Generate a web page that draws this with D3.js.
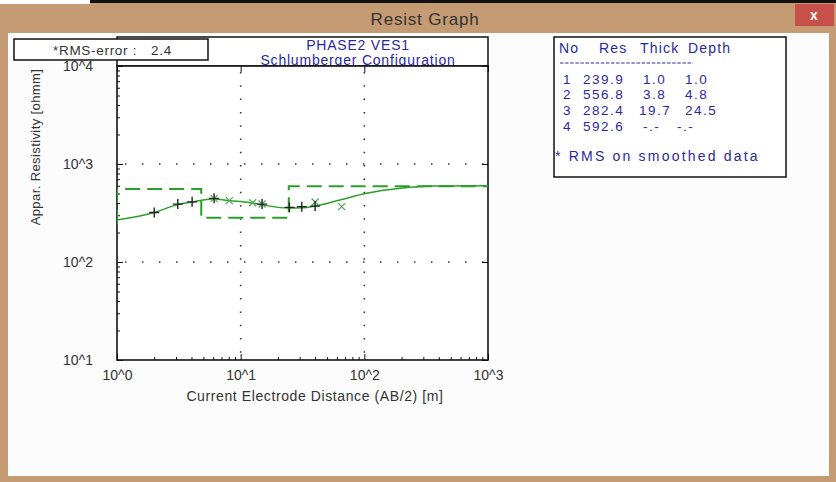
<!DOCTYPE html>
<html>
<head>
<meta charset="utf-8">
<script src="https://cdn.jsdelivr.net/npm/d3@7/dist/d3.min.js"></script>
<style>
  html, body { margin: 0; padding: 0; background: #fff; }
  svg { display: block; font-family: "Liberation Sans", Arial, sans-serif; }
</style>
</head>
<body>
<svg id="win" width="836" height="482"></svg>
<script>
// Layered earth model (inversion result)
const layerNo    = [1, 2, 3, 4];
const layerRes   = [239.9, 556.8, 282.4, 592.6];
const layerThick = ["1.0", "3.8", "19.7", "-.-"];
const layerDepth = ["1.0", "4.8", "24.5", "-.-"];
const depths     = [1.0, 4.8, 24.5];

// Sounding data: AB/2 [m] and apparent resistivity [ohmm]
const measuredAB  = [2.0, 3.1, 4.05, 6.1, 14.9, 24.8, 31.2, 40];
const measuredRho = [320, 390, 411, 446, 390, 361, 367, 372];
const smoothedAB  = [6.1, 8.1, 12.5, 14.9, 40, 65.6];
const smoothedRho = [446, 423, 403, 390, 409, 367];

// Calculated model response curve
const curveAB  = [1.0, 2.0, 3.1, 4.1, 5.9, 8.2, 11.9, 15.2, 24.2, 31.9, 39.9, 63.5, 104, 195, 360, 1000];
const curveRho = [268, 320, 385, 410, 440, 422, 403, 382, 355, 357, 372, 429, 502, 565, 597, 600];

// Axis decades
const xDecades = [1, 10, 100, 1000];
const yDecades = [10, 100, 1000, 10000];
const xDecadeLabels = ["10^0", "10^1", "10^2", "10^3"];
const yDecadeLabels = ["10^1", "10^2", "10^3", "10^4"];

const rmsError = 2.4;

const svg = d3.select("#win");
const W = 836, H = 482;
const tan = "#c49b72";
const blue = "#2a2aa0";
const green = "#2a9f2a";
const ink = "#333";

// ---- window chrome ----
svg.append("rect").attr("x", 0).attr("y", 0).attr("width", W).attr("height", H).attr("fill", tan);
svg.append("rect").attr("x", 0).attr("y", 0).attr("width", 90).attr("height", 4).attr("fill", "#fff");
svg.append("rect").attr("x", 90).attr("y", 0).attr("width", W - 90).attr("height", 3).attr("fill", "#111");
svg.append("rect").attr("x", 8).attr("y", 33).attr("width", 821).attr("height", 443).attr("fill", "#fcfcfc");
svg.append("text").attr("x", 425).attr("y", 25).attr("text-anchor", "middle")
  .attr("font-size", 17).attr("letter-spacing", 0.8).attr("fill", ink).text("Resist Graph");
svg.append("rect").attr("x", 795).attr("y", 4).attr("width", 39).attr("height", 22).attr("fill", "#c8504b");
svg.append("text").attr("x", 814).attr("y", 20).attr("text-anchor", "middle")
  .attr("font-size", 14).attr("font-weight", "bold").attr("fill", "#fff").text("x");

// ---- plot scales ----
const pL = 117, pR = 488, pT = 66, pB = 360;
const x = d3.scaleLog().domain([1, 1000]).range([pL, pR]);
const y = d3.scaleLog().domain([10, 10000]).range([pB, pT]);

// header box with titles
svg.append("rect").attr("x", pL).attr("y", 37).attr("width", pR - pL).attr("height", pT - 37)
  .attr("fill", "#fff").attr("stroke", "#111").attr("stroke-width", 1.5);
svg.append("text").attr("x", 358).attr("y", 50).attr("text-anchor", "middle")
  .attr("font-size", 14).attr("letter-spacing", 0.8).attr("fill", blue).text("PHASE2 VES1");
svg.append("text").attr("x", 358).attr("y", 65).attr("text-anchor", "middle")
  .attr("font-size", 14).attr("letter-spacing", 0.8).attr("fill", blue).text("Schlumberger Configuration");

// plot area
svg.append("rect").attr("x", pL).attr("y", pT).attr("width", pR - pL).attr("height", pB - pT)
  .attr("fill", "#fff");

svg.append("clipPath").attr("id", "plotClip").append("rect")
  .attr("x", pL).attr("y", pT).attr("width", pR - pL).attr("height", pB - pT);

// dotted grid at inner decades
const grid = svg.append("g").attr("stroke", "#333").attr("stroke-width", 1.6);
grid.selectAll("line.h").data(yDecades.slice(1, 3)).join("line")
  .attr("x1", pL + 8).attr("x2", pR).attr("y1", d => y(d)).attr("y2", d => y(d))
  .attr("stroke-dasharray", "1.5,15.5");
grid.selectAll("line.v").data(xDecades.slice(1, 3)).join("line")
  .attr("y1", pT + 6).attr("y2", pB).attr("x1", d => x(d)).attr("x2", d => x(d))
  .attr("stroke-dasharray", "1.5,11.8");

// axes: ticks point inward
const fmtY = d => { const i = yDecades.indexOf(d); return i >= 0 ? yDecadeLabels[i] : ""; };
const fmtX = d => { const i = xDecades.indexOf(d); return i >= 0 ? xDecadeLabels[i] : ""; };
const isDecade = d => Math.abs(Math.log10(d) - Math.round(Math.log10(d))) < 1e-9;

const yAxis = svg.append("g").attr("transform", `translate(${pL},0)`)
  .call(d3.axisLeft(y).tickValues(y.ticks()).tickFormat(fmtY).tickSize(-6).tickPadding(24));
yAxis.selectAll(".tick line").attr("x2", d => isDecade(d) ? 6 : 3).attr("stroke", "#111");
yAxis.selectAll(".tick text").attr("font-size", 14).attr("fill", ink)
  .attr("font-family", "Liberation Sans, Arial, sans-serif");
yAxis.select(".domain").remove();

const xAxis = svg.append("g").attr("transform", `translate(0,${pB})`)
  .call(d3.axisBottom(x).tickValues(x.ticks()).tickFormat(fmtX).tickSize(-6).tickPadding(10));
xAxis.selectAll(".tick line").attr("y2", d => isDecade(d) ? -6 : -3).attr("stroke", "#111");
xAxis.selectAll(".tick text").attr("font-size", 14).attr("fill", ink)
  .attr("font-family", "Liberation Sans, Arial, sans-serif");
xAxis.select(".domain").remove();

const topAxis = svg.append("g").attr("transform", `translate(0,${pT})`)
  .call(d3.axisTop(x).tickValues(xDecades).tickFormat("").tickSize(-6));
topAxis.selectAll(".tick line").attr("stroke", "#111");
topAxis.select(".domain").remove();
const rightAxis = svg.append("g").attr("transform", `translate(${pR},0)`)
  .call(d3.axisRight(y).tickValues(yDecades).tickFormat("").tickSize(-6));
rightAxis.selectAll(".tick line").attr("stroke", "#111");
rightAxis.select(".domain").remove();

svg.append("rect").attr("x", pL).attr("y", pT).attr("width", pR - pL).attr("height", pB - pT)
  .attr("fill", "none").attr("stroke", "#111").attr("stroke-width", 1.6);

// axis titles
svg.append("text").attr("transform", "translate(40,147) rotate(-90)").attr("text-anchor", "middle")
  .attr("font-size", 13).attr("letter-spacing", 0.4).attr("fill", ink).text("Appar. Resistivity [ohmm]");
svg.append("text").attr("x", 315).attr("y", 401).attr("text-anchor", "middle")
  .attr("font-size", 14).attr("letter-spacing", 0.6).attr("fill", ink).text("Current Electrode Distance (AB/2) [m]");

// ---- model and curves ----
const plot = svg.append("g").attr("clip-path", "url(#plotClip)");

// step model built from layer resistivities and depths
const stepPts = [[x.domain()[0], layerRes[0]]];
depths.forEach((d, i) => { stepPts.push([d, layerRes[i]]); stepPts.push([d, layerRes[i + 1]]); });
stepPts.push([x.domain()[1], layerRes[layerRes.length - 1]]);
plot.append("path").datum(stepPts)
  .attr("d", d3.line().x(d => x(d[0])).y(d => y(d[1])))
  .attr("fill", "none").attr("stroke", green).attr("stroke-width", 2)
  .attr("stroke-dasharray", "15,7");

// calculated response
plot.append("path").datum(curveAB.map((a, i) => [a, curveRho[i]]))
  .attr("d", d3.line().x(d => x(d[0])).y(d => y(d[1])).curve(d3.curveMonotoneX))
  .attr("fill", "none").attr("stroke", green).attr("stroke-width", 1.5);

// smoothed data: x marks
const xs = 3.5;
plot.append("g").selectAll("path").data(smoothedAB.map((a, i) => [a, smoothedRho[i]])).join("path")
  .attr("d", d => {
    const cx = x(d[0]), cy = y(d[1]);
    return `M${cx - xs},${cy - xs}L${cx + xs},${cy + xs}M${cx - xs},${cy + xs}L${cx + xs},${cy - xs}`;
  })
  .attr("stroke", "#5aa85a").attr("stroke-width", 1.3).attr("fill", "none");

// measured data: + marks
const ps = 5;
plot.append("g").selectAll("path").data(measuredAB.map((a, i) => [a, measuredRho[i]])).join("path")
  .attr("d", d => {
    const cx = x(d[0]), cy = y(d[1]);
    return `M${cx - ps},${cy}L${cx + ps},${cy}M${cx},${cy - ps}L${cx},${cy + ps}`;
  })
  .attr("stroke", "#222").attr("stroke-width", 1.4).attr("fill", "none");

// ---- RMS box ----
svg.append("rect").attr("x", 14).attr("y", 39).attr("width", 194).attr("height", 21)
  .attr("fill", "#fff").attr("stroke", "#111").attr("stroke-width", 1.5);
svg.append("text").attr("x", 53).attr("y", 54.5).attr("font-size", 13.5).attr("letter-spacing", 0.7)
  .attr("fill", ink).text("*RMS-error :");
svg.append("text").attr("x", 151).attr("y", 54.5).attr("font-size", 13.5).attr("letter-spacing", 0.7)
  .attr("fill", ink).text(rmsError.toFixed(1));

// ---- layer table ----
svg.append("rect").attr("x", 554).attr("y", 37).attr("width", 232).attr("height", 140)
  .attr("fill", "#fff").attr("stroke", "#111").attr("stroke-width", 1.5);
const tbl = svg.append("g").attr("fill", blue).attr("font-size", 13.5).attr("letter-spacing", 1.5);
const hdr = [["No", 559], ["Res", 599], ["Thick", 640], ["Depth", 688]];
hdr.forEach(([t, px]) => tbl.append("text").attr("x", px).attr("y", 53)
  .attr("font-size", 14).attr("letter-spacing", 1.2).text(t));
tbl.append("line").attr("x1", 560).attr("x2", 693).attr("y1", 63).attr("y2", 63)
  .attr("stroke", blue).attr("stroke-width", 1).attr("stroke-dasharray", "3.5,1.6");
const rowY = [84, 99, 115, 131];
layerNo.forEach((n, i) => {
  tbl.append("text").attr("x", 563).attr("y", rowY[i]).text(n);
  tbl.append("text").attr("x", 583).attr("y", rowY[i]).text(layerRes[i].toFixed(1));
  tbl.append("text").attr("x", layerThick[i].length > 3 ? 639 : 643).attr("y", rowY[i]).text(layerThick[i]);
  tbl.append("text").attr("x", layerDepth[i] === "-.-" ? 677 : 685).attr("y", rowY[i]).text(layerDepth[i]);
});
tbl.append("text").attr("x", 555).attr("y", 161).attr("font-size", 14).attr("letter-spacing", 2.2)
  .text("* RMS on smoothed data");
</script>
</body>
</html>
